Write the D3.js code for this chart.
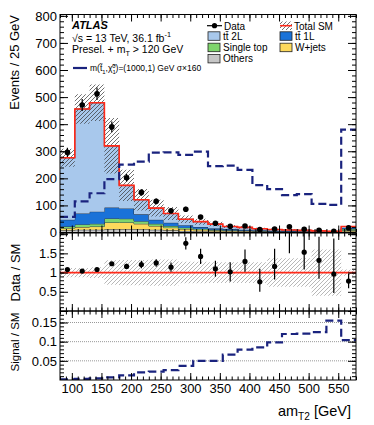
<!DOCTYPE html>
<html>
<head>
<meta charset="utf-8">
<script src="https://cdn.jsdelivr.net/npm/d3@7"></script>
<style>
  body { margin: 0; background: #fff; }
  text { font-family: "Liberation Sans", Arial, Helvetica, sans-serif; }
</style>
</head>
<body>
<script>
// am_T2 bins (25 GeV wide, lower edges), last bin holds the overflow
var binLo = [80, 105, 130, 155, 180, 205, 230, 255, 280, 305, 330, 355, 380, 405, 430, 455, 480, 505, 530, 555]
var binHi = 580

// background stack, bottom to top (events / bin)
var others    = [8, 10, 10, 12, 12, 12, 10, 8, 6, 5, 4, 3, 3, 2.5, 2, 1.8, 1.5, 1.2, 1, 4]
var wjets     = [8, 10, 12, 25, 25, 20, 14, 10, 7, 5, 4, 3, 2.5, 2, 1.5, 1.3, 1.1, 0.9, 0.6, 4]
var singleTop = [6, 10, 10, 15, 14, 10, 8, 6, 5, 4, 3, 2.5, 2, 1.5, 1.3, 1, 0.9, 0.7, 0.5, 5]
var ttbar1L   = [25, 40, 45, 40, 38, 25, 15, 12, 9, 6, 5, 4, 3, 2.5, 2, 1.5, 1.2, 0.8, 0.6, 4]
var ttbar2L   = [229, 386, 402, 228, 85, 54, 43, 34, 22, 20, 15, 9.5, 8.5, 5.5, 4.2, 3.4, 3.3, 2.4, 1.3, 5]
// relative uncertainty of the total SM (hatched band)
var sysRel    = [0.12, 0.12, 0.14, 0.32, 0.33, 0.33, 0.34, 0.34, 0.28, 0.28, 0.27, 0.27, 0.27, 0.27, 0.37, 0.37, 0.37, 0.6, 0.6, 0.08]

// data
var dataVal = [296, 471, 512, 390, 202, 148, 115, 80, 86, 57, 34, 23, 24, 11, 13, 21, 12, 8, 4, 17]
var dataErr = [17, 22, 23, 20, 14, 12, 11, 9, 9, 8, 6, 5, 5, 3.5, 4, 5, 4, 3, 2.2, 4]

// signal m(stop, LSP) = (1000,1) GeV, x160
var signal = [58, 115, 145, 197, 251, 262, 295, 296, 287, 299, 245, 247, 231, 175, 160, 138, 142, 106, 102, 380]

// Data / SM panel
var ratio      = [1.08, 1.04, 1.08, 1.23, 1.16, 1.21, 1.25, 1.14, 1.76, 1.42, 1.10, 1.02, 1.29, 0.76, 1.16, 2.3, 1.53, 1.32, 0.96, 0.78]
var ratioErrLo = [0.03, 0.03, 0.03, 0.04, 0.07, 0.1, 0.1, 0.12, 0.16, 0.2, 0.21, 0.25, 0.27, 0.26, 0.34, 0.8, 0.45, 0.48, 0.49, 0.19]
var ratioErrHi = [0.03, 0.03, 0.03, 0.04, 0.07, 0.1, 0.1, 0.12, 0.16, 0.2, 0.21, 0.25, 0.31, 0.34, 0.46, 0.9, 0.6, 0.61, 0.93, 0.19]

// Signal / SM panel
var sigRatio = [0.002, 0.003, 0.004, 0.007, 0.012, 0.02, 0.022, 0.026, 0.037, 0.05, 0.05, 0.066, 0.079, 0.085, 0.098, 0.12, 0.121, 0.125, 0.155, 0.104]

// tick values
var xMajor = [100, 150, 200, 250, 300, 350, 400, 450, 500, 550]
var xMinor = d3.range(80, 581, 10)
var yMainMajor = [0, 100, 200, 300, 400, 500, 600, 700, 800]
var yMainMinor = d3.range(0, 801, 20)
var yR1Major = [0, 0.5, 1, 1.5, 2]
var yR1Minor = d3.range(0, 2.01, 0.1)
var yR2Major = [0.05, 0.1, 0.15]
var yR2Minor = d3.range(0.01, 0.181, 0.01)

var colors = {
  others: "#c6c6c6", wjets: "#fdd95c", singleTop: "#7fd56c",
  ttbar1L: "#1a72d8", ttbar2L: "#a8c8ec"
}
var navy = "#1a237e"
var red = "#ff2a1a"

var W = 374, H = 425
var L = 60, R = 356
var svg = d3.select("body").append("svg").attr("width", W).attr("height", H)

var x = d3.scaleLinear().domain([80, binHi]).range([L, R])
var yMain = d3.scaleLinear().domain([0, 805]).range([232.5, 14.5])
var yR1 = d3.scaleLinear().domain([0, 2.03]).range([311, 233])
var yR2 = d3.scaleLinear().domain([0, 0.18]).range([380, 311])

// patterns + clips
var defs = svg.append("defs")
function hatch(id, col, w) {
  defs.append("pattern").attr("id", id).attr("patternUnits", "userSpaceOnUse")
    .attr("width", 4).attr("height", 4)
    .append("path").attr("d", "M-1,1 l2,-2 M0,4 l4,-4 M3,5 l2,-2")
    .attr("stroke", col).attr("stroke-width", w)
}
hatch("hatchMain", "#333", 0.7)
hatch("hatchRatio", "#9a9a9a", 0.7)

function clip(id, y) {
  defs.append("clipPath").attr("id", id).append("rect")
    .attr("x", L).attr("y", y.range()[1]).attr("width", R - L).attr("height", y.range()[0] - y.range()[1])
}
clip("clipMain", yMain)
clip("clipR1", yR1)
clip("clipR2", yR2)

// step helpers
function stepPoints(vals) {
  var pts = binLo.map(function(lo, i) { return [lo, vals[i]] })
  pts.push([binHi, vals[vals.length - 1]])
  return pts
}
function stepLine(y) {
  return d3.line().x(function(d) { return x(d[0]) }).y(function(d) { return y(d[1]) }).curve(d3.curveStepAfter)
}
function stepArea(y) {
  return d3.area().x(function(d) { return x(d[0]) })
    .y0(function(d) { return y(d[1]) }).y1(function(d) { return y(d[2]) })
    .curve(d3.curveStepAfter)
}
var centers = binLo.map(function(lo) { return lo + 12.5 })

// ---------------- main panel ----------------
var main = svg.append("g").attr("clip-path", "url(#clipMain)")

var keys = ["others", "wjets", "singleTop", "ttbar1L", "ttbar2L"]
var table = binLo.map(function(lo, i) {
  return { others: others[i], wjets: wjets[i], singleTop: singleTop[i], ttbar1L: ttbar1L[i], ttbar2L: ttbar2L[i] }
})
var stack = d3.stack().keys(keys)(table)
var total = table.map(function(d) { return d3.sum(keys, function(k) { return d[k] }) })

stack.forEach(function(layer) {
  var pts = layer.map(function(d, i) { return [binLo[i], d[0], d[1]] })
  pts.push([binHi, layer[layer.length - 1][0], layer[layer.length - 1][1]])
  main.append("path").attr("d", stepArea(yMain)(pts)).attr("fill", colors[layer.key])
  main.append("path").attr("d", stepLine(yMain)(pts.map(function(p) { return [p[0], p[2]] })))
    .attr("fill", "none").attr("stroke", "#1e2a3c").attr("stroke-width", 0.9)
})

// total SM uncertainty band
var band = binLo.map(function(lo, i) { return [lo, total[i] * (1 - sysRel[i]), total[i] * (1 + sysRel[i])] })
band.push([binHi, band[band.length - 1][1], band[band.length - 1][2]])
main.append("path").attr("d", stepArea(yMain)(band)).attr("fill", "url(#hatchMain)")

main.append("path").attr("d", stepLine(yMain)(stepPoints(total)))
  .attr("fill", "none").attr("stroke", red).attr("stroke-width", 1.6)

main.append("path").attr("d", stepLine(yMain)(stepPoints(signal)))
  .attr("fill", "none").attr("stroke", navy).attr("stroke-width", 2.2).attr("stroke-dasharray", "8,4")

main.selectAll(".dataErr").data(dataVal).enter().append("line")
  .attr("x1", function(d, i) { return x(centers[i]) }).attr("x2", function(d, i) { return x(centers[i]) })
  .attr("y1", function(d, i) { return yMain(d - dataErr[i]) })
  .attr("y2", function(d, i) { return yMain(d + dataErr[i]) })
  .attr("stroke", "#000").attr("stroke-width", 1.2)
main.selectAll(".dataPt").data(dataVal).enter().append("circle")
  .attr("cx", function(d, i) { return x(centers[i]) }).attr("cy", function(d) { return yMain(d) })
  .attr("r", 2.8).attr("fill", "#000")

// ---------------- Data / SM ----------------
var r1 = svg.append("g").attr("clip-path", "url(#clipR1)")
var rband = binLo.map(function(lo, i) { return [lo, 1 - sysRel[i], 1 + sysRel[i]] })
rband.push([binHi, rband[rband.length - 1][1], rband[rband.length - 1][2]])
r1.append("path").attr("d", stepArea(yR1)(rband)).attr("fill", "url(#hatchRatio)")
r1.append("line").attr("x1", L).attr("x2", R).attr("y1", yR1(1)).attr("y2", yR1(1))
  .attr("stroke", red).attr("stroke-width", 1.6)
r1.selectAll(".rErr").data(ratio).enter().append("line")
  .attr("x1", function(d, i) { return x(centers[i]) }).attr("x2", function(d, i) { return x(centers[i]) })
  .attr("y1", function(d, i) { return yR1(d - ratioErrLo[i]) })
  .attr("y2", function(d, i) { return yR1(d + ratioErrHi[i]) })
  .attr("stroke", "#000").attr("stroke-width", 1.2)
r1.selectAll(".rPt").data(ratio).enter().append("circle")
  .attr("cx", function(d, i) { return x(centers[i]) }).attr("cy", function(d) { return yR1(d) })
  .attr("r", 2.6).attr("fill", "#000")

// ---------------- Signal / SM ----------------
var r2 = svg.append("g").attr("clip-path", "url(#clipR2)")
yR2Major.forEach(function(v) {
  r2.append("line").attr("x1", L).attr("x2", R).attr("y1", yR2(v)).attr("y2", yR2(v))
    .attr("stroke", "#999").attr("stroke-width", 1).attr("stroke-dasharray", "1,1")
})
r2.append("path").attr("d", stepLine(yR2)(stepPoints(sigRatio)))
  .attr("fill", "none").attr("stroke", navy).attr("stroke-width", 2.2).attr("stroke-dasharray", "8,4")

// ---------------- frames and axes ----------------
function fmtNum(v) { return String(+v.toFixed(2)) }

function drawFrame(y, yMajor, yMinor, yFmt, xLabels) {
  var top = y.range()[1], bottom = y.range()[0]
  var g = svg.append("g").attr("font-size", 13)
  function add(axis, tx, ty) {
    var a = g.append("g").attr("transform", "translate(" + tx + "," + ty + ")").call(axis)
    a.select(".domain").remove()
    a.attr("font-size", 13).attr("font-family", null)
    return a
  }
  add(d3.axisLeft(y).tickValues(yMajor).tickSize(-8).tickPadding(3).tickFormat(yFmt), L, 0)
  add(d3.axisLeft(y).tickValues(yMinor).tickSize(-4).tickFormat(""), L, 0)
  add(d3.axisRight(y).tickValues(yMajor).tickSize(-8).tickFormat(""), R, 0)
  add(d3.axisRight(y).tickValues(yMinor).tickSize(-4).tickFormat(""), R, 0)
  add(d3.axisTop(x).tickValues(xMajor).tickSize(-7).tickFormat(""), 0, top)
  add(d3.axisTop(x).tickValues(xMinor).tickSize(-3.5).tickFormat(""), 0, top)
  add(d3.axisBottom(x).tickValues(xMajor).tickSize(-7).tickPadding(4).tickFormat(xLabels ? d3.format("d") : ""), 0, bottom)
  add(d3.axisBottom(x).tickValues(xMinor).tickSize(-3.5).tickFormat(""), 0, bottom)
  g.append("rect").attr("x", L).attr("y", top).attr("width", R - L).attr("height", bottom - top)
    .attr("fill", "none").attr("stroke", "#000").attr("stroke-width", 1)
}
drawFrame(yMain, yMainMajor, yMainMinor, d3.format("d"), false)
drawFrame(yR1, yR1Major, yR1Minor, function(v) { return (v === 0 || v === 2) ? "" : fmtNum(v) }, false)
drawFrame(yR2, yR2Major, yR2Minor, fmtNum, true)

// axis titles
svg.append("text").attr("transform", "translate(19,15) rotate(-90)").attr("text-anchor", "end")
  .attr("font-size", 13).text("Events / 25 GeV")
svg.append("text").attr("transform", "translate(20,272.5) rotate(-90)").attr("text-anchor", "middle")
  .attr("font-size", 13).text("Data / SM")
svg.append("text").attr("transform", "translate(19,342) rotate(-90)").attr("text-anchor", "middle")
  .attr("font-size", 11.5).text("Signal / SM")

// rich text with sub/superscripts: parts = [[text, "n"|"sub"|"sup"|"back"], ...]
function rich(tx, ty, size, parts, anchor) {
  var t = svg.append("text").attr("x", tx).attr("y", ty).attr("font-size", size)
    .attr("text-anchor", anchor || "start")
  var shift = 0
  parts.forEach(function(p) {
    var target = p[1] === "sub" ? size * 0.3 : p[1] === "sup" ? -size * 0.4 : 0
    var s = t.append("tspan").attr("dy", target - shift).text(p[0])
    if (p[1] === "sub" || p[1] === "sup") s.attr("font-size", size * 0.7)
    if (p[2]) s.attr("dx", p[2])
    shift = target
  })
  return t
}

rich(351, 416, 14.5, [["am", "n"], ["T2", "sub"], [" [GeV]", "n"]], "end")

// ATLAS label block
svg.append("text").attr("x", 72).attr("y", 29).attr("font-size", 11)
  .attr("font-weight", "bold").attr("font-style", "italic").text("ATLAS")
rich(72, 41.5, 10.5, [["\u221As = 13 TeV, 36.1 fb", "n"], ["-1", "sup"]])
rich(72, 53, 10.5, [["Presel. + m", "n"], ["T", "sub"], [" > 120 GeV", "n"]])

svg.append("line").attr("x1", 73).attr("x2", 87).attr("y1", 68).attr("y2", 68)
  .attr("stroke", navy).attr("stroke-width", 2.2)
rich(90, 71, 8.5, [["m(t\u0303", "n"], ["1", "sub"], [",\u03C7\u0303", "n"], ["1", "sub"], ["0", "sup", -3.5],
  [")=(1000,1) GeV \u03C3\u00D7160", "n"]])

// legend
var leg = svg.append("g")
leg.append("line").attr("x1", 207).attr("x2", 222).attr("y1", 25.7).attr("y2", 25.7).attr("stroke", "#000").attr("stroke-width", 1.2)
leg.append("circle").attr("cx", 214.5).attr("cy", 25.7).attr("r", 2.6).attr("fill", "#000")
leg.append("text").attr("x", 224).attr("y", 29.5).attr("font-size", 10).text("Data")

function legBox(bx, by, fill, label) {
  leg.append("rect").attr("x", bx).attr("y", by).attr("width", 12).attr("height", 8.5)
    .attr("fill", fill).attr("stroke", "#222").attr("stroke-width", 0.8)
  leg.append("text").attr("x", bx + 15).attr("y", by + 8).attr("font-size", 10).text(label)
}
legBox(208, 31.8, colors.ttbar2L, "tt\u0304 2L")
legBox(208, 43.2, colors.singleTop, "Single top")
legBox(208, 54.4, colors.others, "Others")
legBox(280, 31.8, colors.ttbar1L, "tt\u0304 1L")
legBox(280, 43.2, colors.wjets, "W+jets")

leg.append("rect").attr("x", 280).attr("y", 21.5).attr("width", 12).attr("height", 8.5).attr("fill", "url(#hatchMain)")
leg.append("line").attr("x1", 280).attr("x2", 292).attr("y1", 25.7).attr("y2", 25.7).attr("stroke", red).attr("stroke-width", 1.6)
leg.append("text").attr("x", 294).attr("y", 29.5).attr("font-size", 10).text("Total SM")
</script>
</body>
</html>
